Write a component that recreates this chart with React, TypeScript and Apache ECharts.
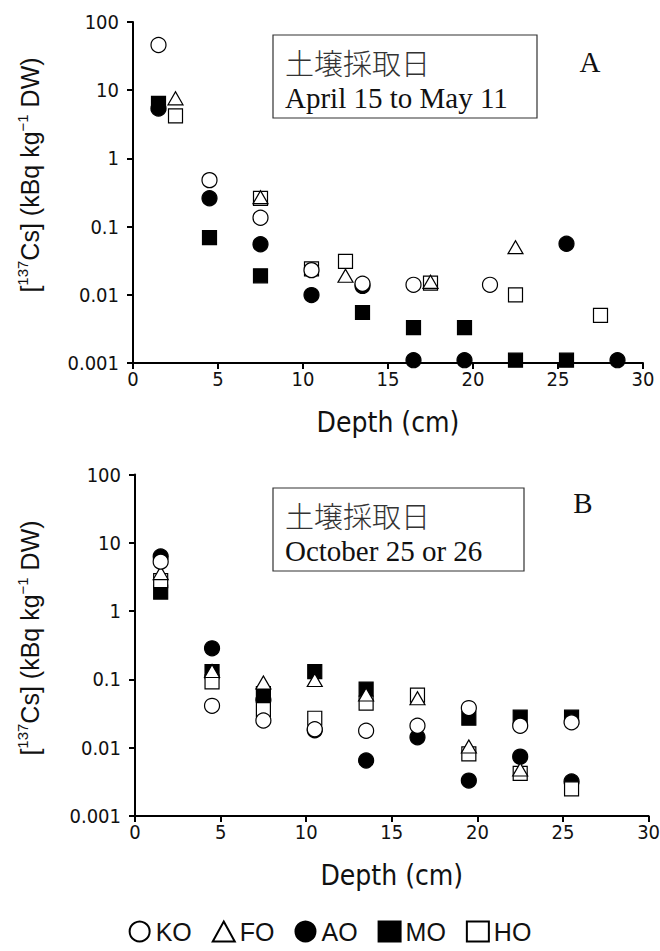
import React, { useEffect, useRef } from "react";
import * as echarts from "echarts";

// Sampling sites, in legend order
const siteNames = ["KO", "FO", "AO", "MO", "HO"];
// Drawing order (later ones sit on top)
const drawOrder = ["AO", "MO", "HO", "FO", "KO"];

// Log-axis tick labels, from 10^-3 up to 10^2
const yTickLabels = ["0.001", "0.01", "0.1", "1", "10", "100"];

// Panel A — soil sampled April 15 to May 11: [depth (cm), 137Cs (kBq/kg DW)]
const koA: [number, number][] = [[1.5, 46], [4.5, 0.48], [7.5, 0.135], [10.5, 0.023], [13.5, 0.0145], [16.5, 0.014], [21.0, 0.014]];
const foA: [number, number][] = [[2.5, 7.6], [7.5, 0.27], [12.5, 0.019], [17.5, 0.0155], [22.5, 0.05]];
const aoA: [number, number][] = [[1.5, 5.4], [4.5, 0.26], [7.5, 0.055], [10.5, 0.0099], [13.5, 0.0135], [16.5, 0.0011], [19.5, 0.0011], [25.5, 0.056], [28.5, 0.0011]];
const moA: [number, number][] = [[1.5, 6.4], [4.5, 0.069], [7.5, 0.019], [13.5, 0.0055], [16.5, 0.0033], [19.5, 0.0033], [22.5, 0.0011], [25.5, 0.0011]];
const hoA: [number, number][] = [[2.5, 4.2], [7.5, 0.26], [10.5, 0.024], [12.5, 0.031], [17.5, 0.0148], [22.5, 0.01], [27.5, 0.005]];

// Panel B — soil sampled October 25 or 26
const koB: [number, number][] = [[1.5, 5.3], [4.5, 0.041], [7.5, 0.025], [10.5, 0.0186], [13.5, 0.0177], [16.5, 0.021], [19.5, 0.038], [22.5, 0.021], [25.5, 0.0235]];
const foB: [number, number][] = [[1.5, 3.6], [4.5, 0.133], [7.5, 0.09], [10.5, 0.098], [13.5, 0.06], [16.5, 0.053], [19.5, 0.0104], [22.5, 0.0048]];
const aoB: [number, number][] = [[1.5, 6.3], [4.5, 0.285], [7.5, 0.05], [10.5, 0.018], [13.5, 0.0065], [16.5, 0.0142], [19.5, 0.0033], [22.5, 0.0074], [25.5, 0.0032]];
const moB: [number, number][] = [[1.5, 1.9], [4.5, 0.13], [7.5, 0.062], [10.5, 0.13], [13.5, 0.072], [19.5, 0.027], [22.5, 0.028], [25.5, 0.028]];
const hoB: [number, number][] = [[1.5, 2.8], [4.5, 0.092], [7.5, 0.036], [10.5, 0.027], [13.5, 0.045], [16.5, 0.059], [19.5, 0.0081], [22.5, 0.0042], [25.5, 0.0025]];

const panelA: Record<string, [number, number][]> = { KO: koA, FO: foA, AO: aoA, MO: moA, HO: hoA };
const panelB: Record<string, [number, number][]> = { KO: koB, FO: foB, AO: aoB, MO: moB, HO: hoB };

const markers: Record<string, { symbol: string; size: number | number[]; fill: string }> = {
  KO: { symbol: "circle", size: 15, fill: "#ffffff" },
  FO: { symbol: "triangle", size: [15, 13], fill: "#ffffff" },
  AO: { symbol: "circle", size: 15, fill: "#000000" },
  MO: { symbol: "rect", size: 14, fill: "#000000" },
  HO: { symbol: "rect", size: 14, fill: "#ffffff" },
};

const NARROW = '"Liberation Sans Narrow", "Arial Narrow", "DejaVu Sans Condensed", sans-serif';
const DEPTH_FONT = '"DejaVu Sans Condensed", "Liberation Sans Narrow", sans-serif';
const SANS = '"Liberation Sans", Arial, sans-serif';
const SERIF = '"Liberation Serif", "Times New Roman", serif';
const CJK = '"Noto Sans CJK JP", "Noto Sans CJK SC", sans-serif';

function xAxisFor(gridIndex: number) {
  return {
    type: "value",
    gridIndex,
    min: 0,
    max: 30,
    interval: 5,
    axisLine: { show: true, onZero: false, lineStyle: { color: "#000", width: 2 } },
    axisTick: { show: true, length: 6, lineStyle: { color: "#000", width: 2 } },
    axisLabel: { margin: 6, fontSize: 20, fontFamily: NARROW, color: "#111" },
    splitLine: { show: false },
    name: "Depth (cm)",
    nameLocation: "middle",
    nameGap: 45,
    nameTextStyle: { fontSize: 28, fontFamily: DEPTH_FONT, color: "#111" },
  };
}

function yAxisFor(gridIndex: number) {
  return {
    type: "log",
    logBase: 10,
    gridIndex,
    min: 0.001,
    max: 100,
    splitNumber: 5,
    axisLine: { show: true, lineStyle: { color: "#000", width: 2 } },
    axisTick: { show: true, length: 6, lineStyle: { color: "#000", width: 2 } },
    minorTick: { show: false },
    axisLabel: {
      margin: 14,
      fontSize: 20,
      fontFamily: NARROW,
      color: "#111",
      formatter: (v: number) => yTickLabels[Math.round(Math.log10(v)) + 3] ?? "",
    },
    splitLine: { show: false },
  };
}

function seriesFor(panel: Record<string, [number, number][]>, axisIndex: number) {
  return drawOrder.map((name) => ({
    type: "scatter",
    name,
    xAxisIndex: axisIndex,
    yAxisIndex: axisIndex,
    data: panel[name],
    symbol: markers[name].symbol,
    symbolSize: markers[name].size,
    itemStyle: { color: markers[name].fill, borderColor: "#000", borderWidth: 1.2, opacity: 1 },
    emphasis: { disabled: true },
    silent: true,
  }));
}

// Rotated y-axis title with superscripts
function yTitle(cx: number, cy: number) {
  return {
    type: "text",
    x: cx,
    y: cy,
    rotation: Math.PI / 2,
    silent: true,
    style: {
      text: "{n|[}{s|137}{n|Cs] (kBq kg}{s|−1}{n| DW)}",
      align: "center",
      verticalAlign: "middle",
      fill: "#111",
      rich: {
        n: { fontSize: 25, fontFamily: SANS, lineHeight: 31, fill: "#111" },
        s: { fontSize: 15, fontFamily: SANS, lineHeight: 15, verticalAlign: "top", fill: "#111" },
      },
    },
  };
}

function dateBox(x: number, y: number, w: number, h: number, line2: string) {
  return [
    { type: "rect", silent: true, shape: { x, y, width: w, height: h }, style: { fill: "none", stroke: "#333", lineWidth: 1.2 } },
    {
      type: "text", silent: true, x: x + 12, y: y + 27,
      style: { text: "土壌採取日", fontSize: 29, fontFamily: CJK, fontWeight: 300, fill: "#333", verticalAlign: "middle" },
    },
    {
      type: "text", silent: true, x: x + 12, y: y + 63,
      style: { text: line2, fontSize: 29, fontFamily: SERIF, fill: "#111", verticalAlign: "middle" },
    },
  ];
}

export default function App() {
  const ref = useRef<HTMLDivElement>(null);

  useEffect(() => {
    if (!ref.current) return;
    const chart = echarts.init(ref.current, null, { renderer: "svg" });
    chart.setOption({
      animation: false,
      backgroundColor: "#ffffff",
      grid: [
        { left: 133, top: 22, width: 510, height: 341, outerBoundsMode: "none" },
        { left: 135, top: 474.5, width: 513.6, height: 341.5, outerBoundsMode: "none" },
      ],
      xAxis: [xAxisFor(0), xAxisFor(1)],
      yAxis: [yAxisFor(0), yAxisFor(1)],
      legend: {
        data: siteNames,
        top: 914,
        left: "center",
        selectedMode: false,
        itemWidth: 22,
        itemHeight: 20,
        itemGap: 20,
        itemStyle: { borderWidth: 2 },
        textStyle: { fontSize: 25, fontFamily: SANS, color: "#111" },
      },
      series: [...seriesFor(panelA, 0), ...seriesFor(panelB, 1)],
      graphic: [
        yTitle(30, 175),
        yTitle(30, 638),
        ...dateBox(273, 35, 264, 83, "April 15 to May 11"),
        ...dateBox(273, 488, 251, 83, "October 25 or 26"),
        { type: "text", silent: true, x: 590, y: 62, style: { text: "A", fontSize: 29, fontFamily: SERIF, fill: "#111", align: "center", verticalAlign: "middle" } },
        { type: "text", silent: true, x: 583, y: 503, style: { text: "B", fontSize: 29, fontFamily: SERIF, fill: "#111", align: "center", verticalAlign: "middle" } },
      ],
    });
    return () => chart.dispose();
  }, []);

  return (
    <div
      ref={ref}
      style={{ position: "fixed", left: 0, top: 0, width: 660, height: 951, background: "#fff" }}
    />
  );
}
